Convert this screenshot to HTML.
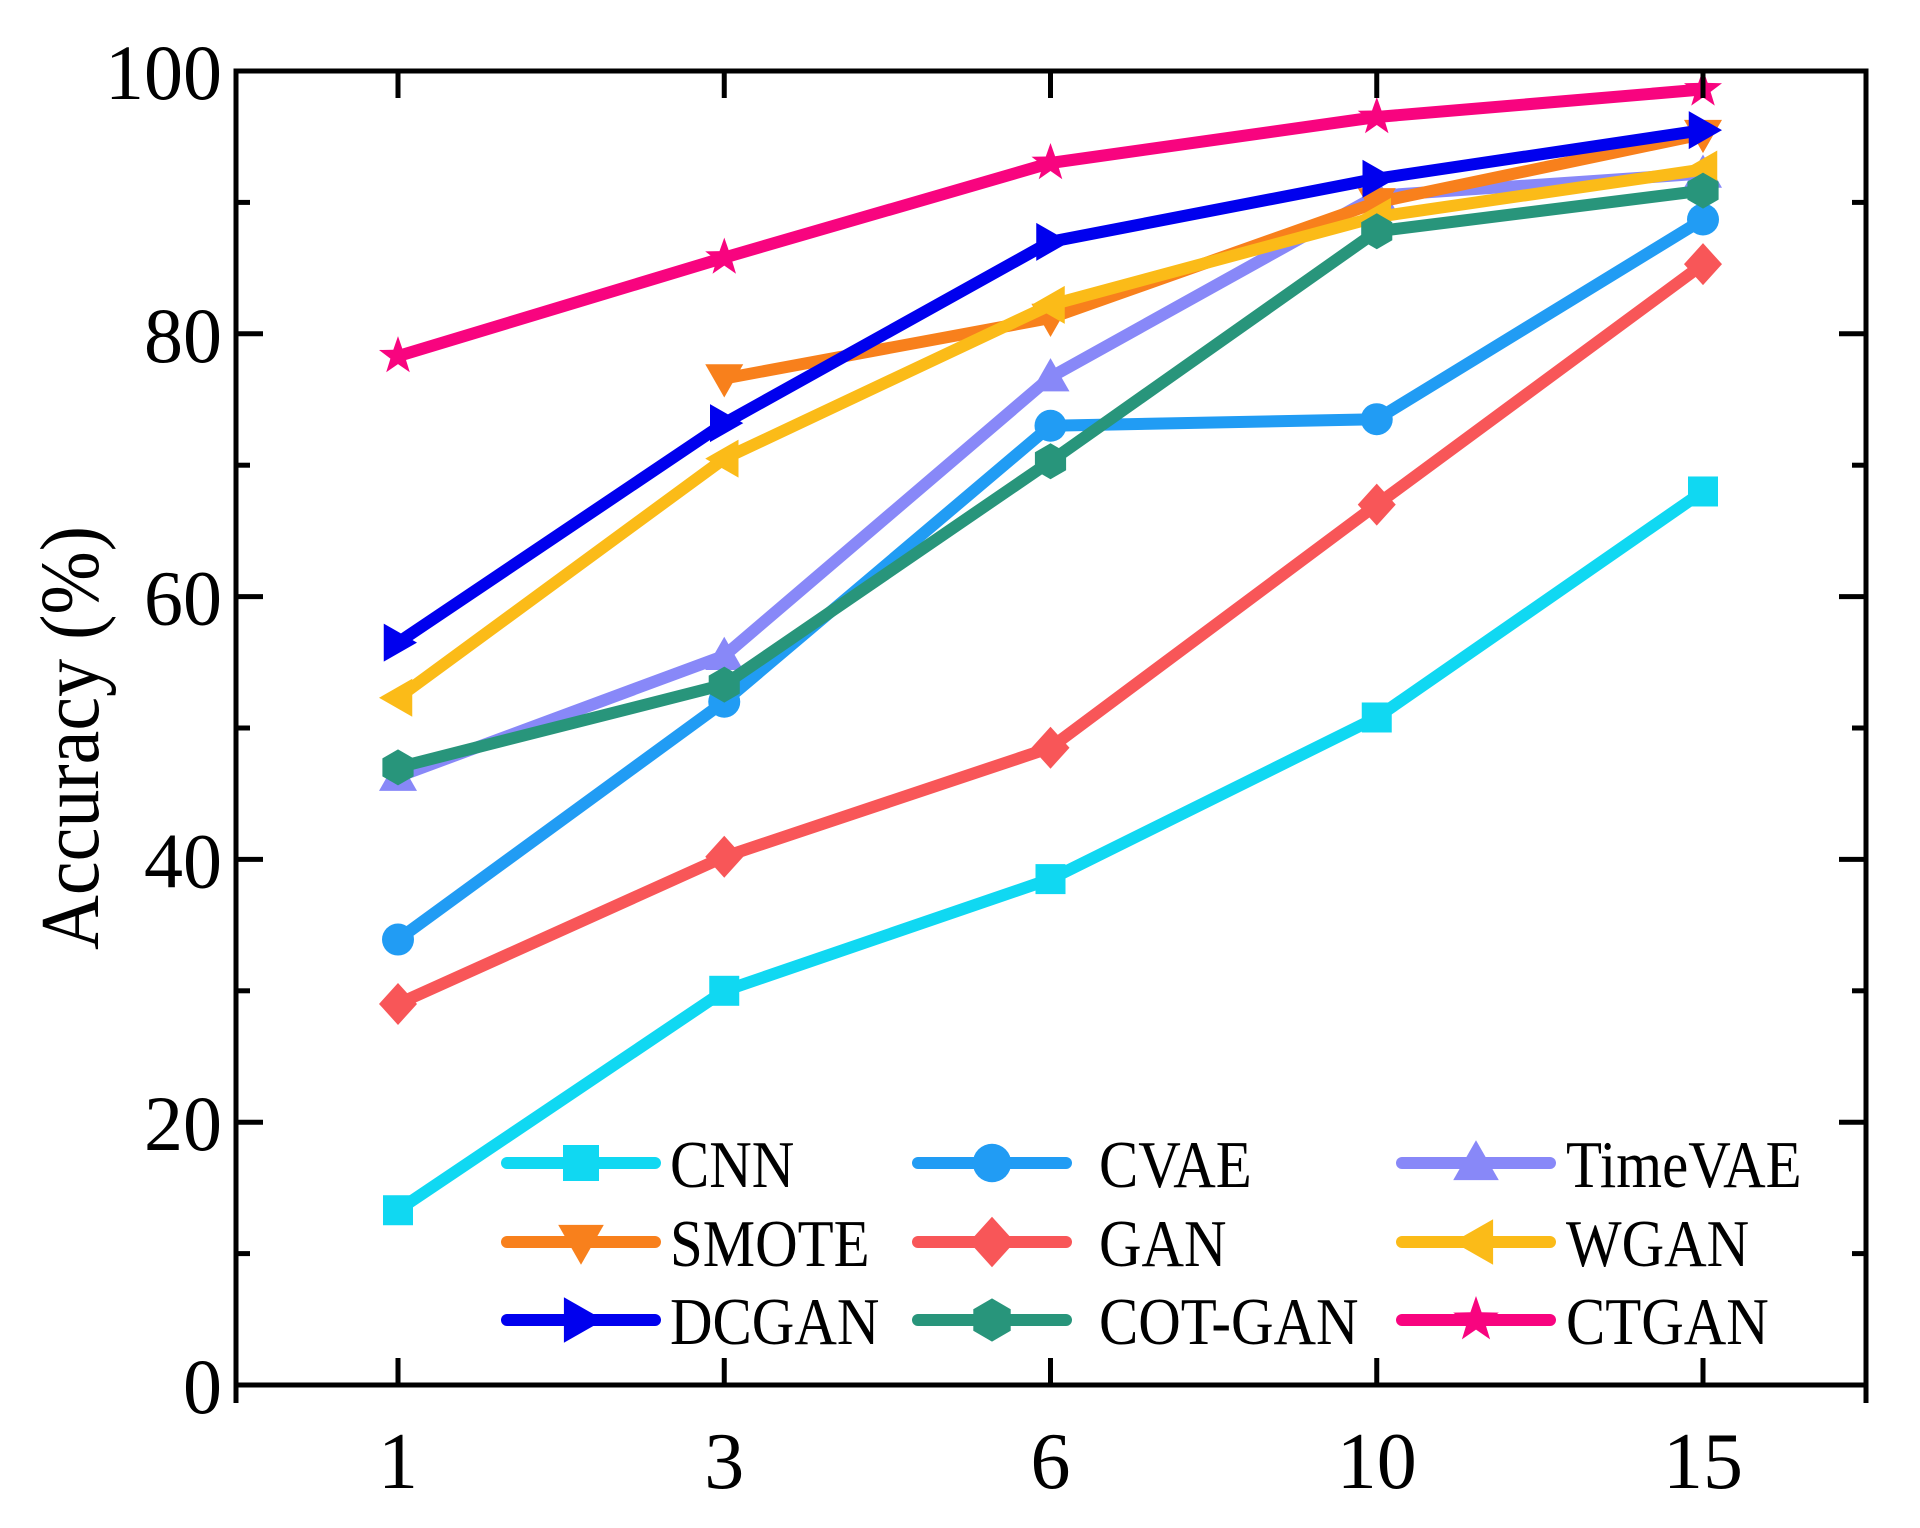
<!DOCTYPE html>
<html><head><meta charset="utf-8"><style>
html,body{margin:0;padding:0;background:#fff;}
svg{display:block;}
text{font-family:"Liberation Serif",serif;fill:#000;}
</style></head><body>
<svg id="chart" width="1920" height="1528" viewBox="0 0 1920 1528" xmlns="http://www.w3.org/2000/svg">
<g id="series"></g>
<g id="axes"></g>
<g id="legend"></g>
<text x="0" y="0" font-size="80" text-anchor="middle" transform="translate(98,738) rotate(-90) scale(0.95,1.05)">Accuracy (%)</text>
</svg>
<script>
const categories = ["1","3","6","10","15"];
const yTicks = [0,20,40,60,80,100];
const cnn = [13.3,30,38.5,50.8,68];
const cvae = [33.9,52,73,73.5,88.7];
const timevae = [46.3,55.5,76.7,90.5,92.2];
const smote = [null,76.6,81.2,90,95.2];
const gan = [29,40.2,48.5,67,85.3];
const wgan = [52.3,70.5,82.2,88.9,92.5];
const dcgan = [56.5,73.2,87,91.8,95.5];
const cotgan = [47,53.3,70.3,87.8,90.9];
const ctgan = [78.3,85.8,93,96.5,98.6];

const NS="http://www.w3.org/2000/svg";
const L=236,R=1866,T=71,B=1385;
function xPos(i){return 398+i*326.25;}
function yPos(v){return B-(v/100)*(B-T);}
function mk(tag,attrs,parent){const e=document.createElementNS(NS,tag);for(const k in attrs)e.setAttribute(k,attrs[k]);parent.appendChild(e);return e;}

function marker(type,cx,cy,color,parent,sc){
  sc=sc||1;let e;const s=19*sc;
  if(type==="square") e=mk("rect",{x:cx-15*sc,y:cy-15*sc,width:30*sc,height:30*sc,fill:color},parent);
  else if(type==="circle") e=mk("circle",{cx:cx,cy:cy,r:16*sc,fill:color},parent);
  else if(type==="up") e=mk("polygon",{points:`${cx},${cy-s} ${cx+s},${cy+s*0.75} ${cx-s},${cy+s*0.75}`,fill:color},parent);
  else if(type==="down") e=mk("polygon",{points:`${cx-s},${cy-s*0.75} ${cx+s},${cy-s*0.75} ${cx},${cy+s}`,fill:color},parent);
  else if(type==="left") e=mk("polygon",{points:`${cx-s},${cy} ${cx+s*0.75},${cy-s} ${cx+s*0.75},${cy+s}`,fill:color},parent);
  else if(type==="right") e=mk("polygon",{points:`${cx+s},${cy} ${cx-s*0.75},${cy-s} ${cx-s*0.75},${cy+s}`,fill:color},parent);
  else if(type==="diamond") e=mk("polygon",{points:`${cx},${cy-21*sc} ${cx+19*sc},${cy} ${cx},${cy+21*sc} ${cx-19*sc},${cy}`,fill:color},parent);
  else if(type==="hex"){let p=[];for(let k=0;k<6;k++){const a=Math.PI/2+k*Math.PI/3;p.push((cx+18*sc*Math.cos(a)).toFixed(1)+","+(cy-18*sc*Math.sin(a)).toFixed(1));}e=mk("polygon",{points:p.join(" "),fill:color},parent);}
  else if(type==="star"){let p=[];for(let k=0;k<10;k++){const a=Math.PI/2+k*Math.PI/5;const r=(k%2?8:20)*sc;p.push((cx+r*Math.cos(a)).toFixed(1)+","+(cy-r*Math.sin(a)).toFixed(1));}e=mk("polygon",{points:p.join(" "),fill:color},parent);}
  return e;
}

const seriesList=[
 {name:"CNN",data:cnn,color:"#10d8f2",m:"square"},
 {name:"CVAE",data:cvae,color:"#219cf4",m:"circle"},
 {name:"TimeVAE",data:timevae,color:"#8888f8",m:"up"},
 {name:"SMOTE",data:smote,color:"#f8801c",m:"down"},
 {name:"GAN",data:gan,color:"#f85658",m:"diamond"},
 {name:"WGAN",data:wgan,color:"#fbbb18",m:"left"},
 {name:"DCGAN",data:dcgan,color:"#0000ee",m:"right"},
 {name:"COT-GAN",data:cotgan,color:"#28957b",m:"hex"},
 {name:"CTGAN",data:ctgan,color:"#f8047f",m:"star"}
];
const sg=document.getElementById("series");
seriesList.forEach(s=>{
  const g=mk("g",{},sg);
  
  
  const pts=[];
  s.data.forEach((v,i)=>{if(v!==null)pts.push(xPos(i).toFixed(1)+","+yPos(v).toFixed(1));});
  const pl=mk("polyline",{points:pts.join(" "),fill:"none",stroke:s.color,"stroke-width":12,"stroke-linejoin":"round"},g);
  
  
  s.data.forEach((v,i)=>{if(v===null)return;
    const e=marker(s.m,xPos(i),yPos(v),s.color,g);
    
    
  });
});

const ag=document.getElementById("axes");
const frame=mk("rect",{x:L,y:T,width:R-L,height:B-T,fill:"none",stroke:"#000","stroke-width":5},ag);


for(let v=0;v<=100;v+=10){
  const y=yPos(v);const len=(v%20===0)?27:14;
  mk("line",{x1:L,y1:y,x2:L+len,y2:y,stroke:"#000","stroke-width":5},ag);
  mk("line",{x1:R,y1:y,x2:R-len,y2:y,stroke:"#000","stroke-width":5},ag);
}
yTicks.forEach(v=>{
  const t=mk("text",{x:L-14,y:yPos(v)+28,"font-size":78,"text-anchor":"end"},ag);
  t.textContent=String(v);
  
  
});
categories.forEach((c,i)=>{
  const x=xPos(i);
  mk("line",{x1:x,y1:B,x2:x,y2:B-27,stroke:"#000","stroke-width":5},ag);
  mk("line",{x1:x,y1:T,x2:x,y2:T+27,stroke:"#000","stroke-width":5},ag);
  const t=mk("text",{x:x,y:1488,"font-size":80,"text-anchor":"middle"},ag);
  t.textContent=c;
  
  
});
mk("line",{x1:L,y1:B,x2:L,y2:B+18,stroke:"#000","stroke-width":5},ag);
mk("line",{x1:R,y1:B,x2:R,y2:B+18,stroke:"#000","stroke-width":5},ag);

const lg=document.getElementById("legend");
const colX=[507,918,1402], textX=[670,1099,1566], rowY=[1163,1242,1320];
seriesList.forEach((s,k)=>{
  const col=k%3,row=Math.floor(k/3);
  const g=mk("g",{},lg);
  
  
  const y=rowY[row];
  mk("line",{x1:colX[col],y1:y,x2:colX[col]+148,y2:y,stroke:s.color,"stroke-width":12,"stroke-linecap":"round"},g);
  marker(s.m,colX[col]+74,y,s.color,g,1.2);
  const t=mk("text",{x:0,y:0,"font-size":62,transform:`translate(${textX[col]},${y+24}) scale(0.95,1.08)`},g);
  t.textContent=s.name;
});
</script>
</body></html>
